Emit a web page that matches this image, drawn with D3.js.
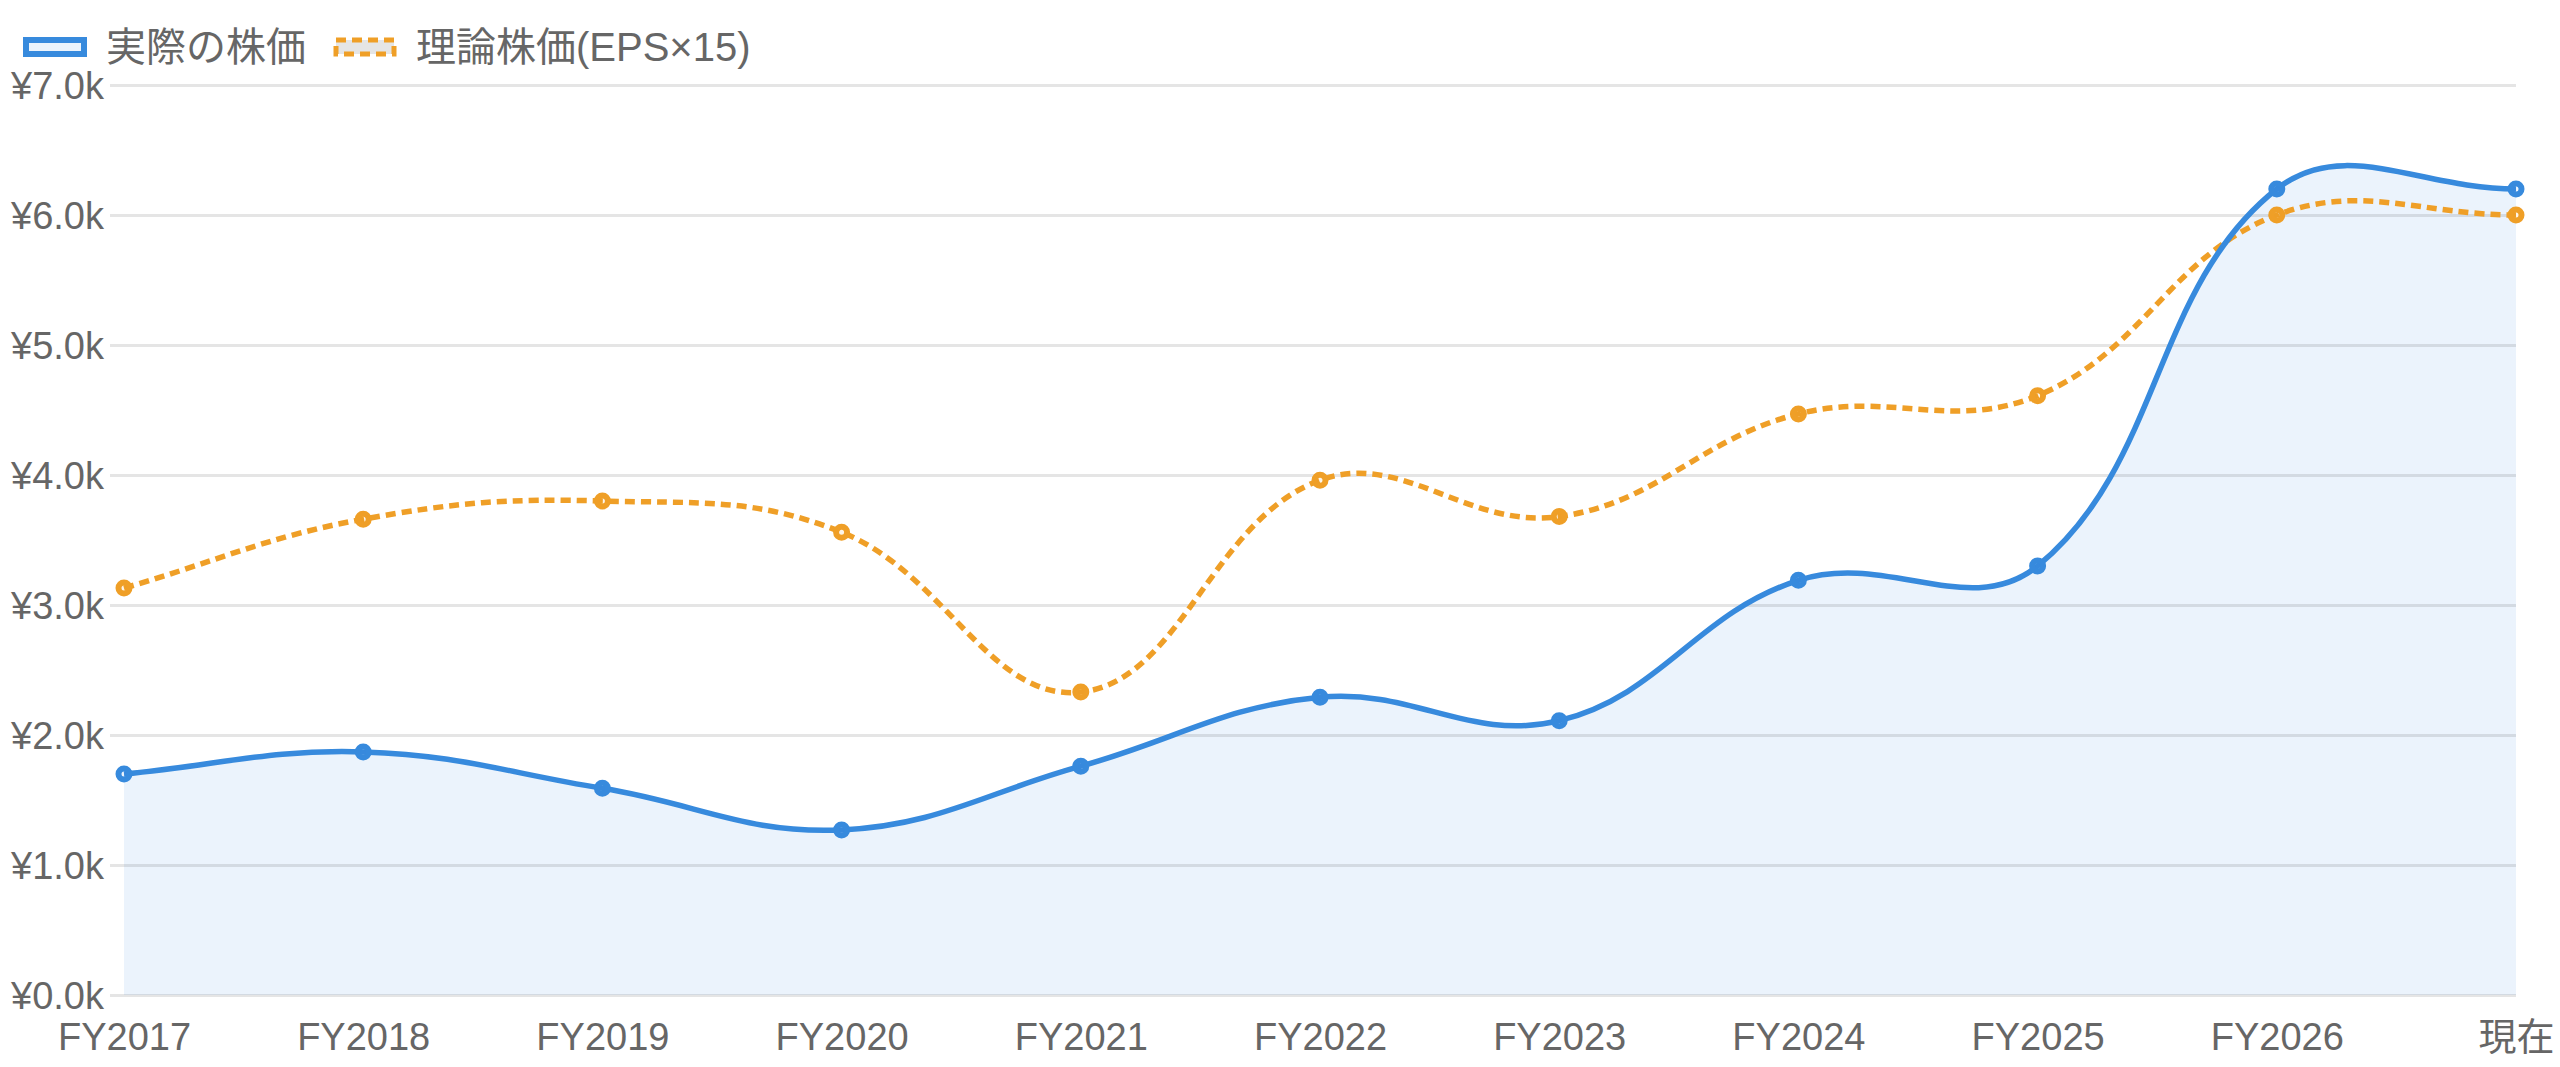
<!DOCTYPE html>
<html>
<head>
<meta charset="utf-8">
<script src="https://cdn.jsdelivr.net/npm/d3@7"></script>
<style>
  html, body { margin: 0; padding: 0; background: #ffffff; }
  svg { display: block; }
  text { font-family: "Liberation Sans", Arial, "Noto Sans CJK JP", sans-serif; fill: #666666; }
</style>
</head>
<body>
<svg id="chart" width="2560" height="1067"></svg>
<script>
// ---- data ----
const categories = ["FY2017","FY2018","FY2019","FY2020","FY2021","FY2022","FY2023","FY2024","FY2025","FY2026","現在"];
const actualPrice = [1700, 1870, 1590, 1270, 1760, 2290, 2110, 3190, 3300, 6200, 6200];
const theoreticalPrice = [3130, 3660, 3800, 3560, 2330, 3960, 3680, 4470, 4610, 6000, 6000];
const seriesNames = ["実際の株価", "理論株価(EPS×15)"];
const yTicks = [0, 1000, 2000, 3000, 4000, 5000, 6000, 7000];

// ---- layout ----
const plotL = 124, plotR = 2516, plotT = 85, plotB = 995;
const blue = "#378ADD", orange = "#EF9F27";

const svg = d3.select("#chart");
const x = d3.scalePoint().domain(categories).range([plotL, plotR]);
const y = d3.scaleLinear().domain([0, 7000]).range([plotB, plotT]);

// Chart.js-style bezier spline (tension 0.4) as a d3 curve
function chartJsCurve(tension, bounds) {
  function Curve(context) { this._context = context; }
  Curve.prototype = {
    areaStart() { this._line = 0; },
    areaEnd() { this._line = NaN; },
    lineStart() { this._pts = []; },
    point(px, py) { this._pts.push([+px, +py]); },
    lineEnd() {
      const p = this._pts, n = p.length, ctx = this._context;
      if (n) {
        if (this._line) ctx.lineTo(p[0][0], p[0][1]); else ctx.moveTo(p[0][0], p[0][1]);
        const clampX = v => Math.max(bounds[0], Math.min(bounds[1], v));
        const clampY = v => Math.max(bounds[2], Math.min(bounds[3], v));
        const cps = p.map((cur, i) => {
          const prev = p[Math.max(0, i - 1)], next = p[Math.min(n - 1, i + 1)];
          const d01 = Math.hypot(cur[0] - prev[0], cur[1] - prev[1]);
          const d12 = Math.hypot(next[0] - cur[0], next[1] - cur[1]);
          let s01 = d01 / (d01 + d12), s12 = d12 / (d01 + d12);
          if (isNaN(s01)) s01 = 0; if (isNaN(s12)) s12 = 0;
          const fa = tension * s01, fb = tension * s12;
          return {
            prev: [clampX(cur[0] - fa * (next[0] - prev[0])), clampY(cur[1] - fa * (next[1] - prev[1]))],
            next: [clampX(cur[0] + fb * (next[0] - prev[0])), clampY(cur[1] + fb * (next[1] - prev[1]))]
          };
        });
        for (let i = 1; i < n; i++) {
          ctx.bezierCurveTo(cps[i-1].next[0], cps[i-1].next[1], cps[i].prev[0], cps[i].prev[1], p[i][0], p[i][1]);
        }
      }
      if (this._line || (this._line !== 0 && n === 1)) ctx.closePath();
      this._line = 1 - this._line;
    }
  };
  return ctx => new Curve(ctx);
}
const curve = chartJsCurve(0.4, [plotL, plotR, plotT, plotB]);

const actualData = categories.map((c, i) => ({c, v: actualPrice[i]}));
const theoData = categories.map((c, i) => ({c, v: theoreticalPrice[i]}));

// area fill (actual)
svg.append("path")
  .datum(actualData)
  .attr("d", d3.area().x(d => x(d.c)).y0(y(0)).y1(d => y(d.v)).curve(curve))
  .attr("fill", "rgba(55,138,221,0.1)");

// gridlines + y labels
const yAxis = d3.axisLeft(y).tickValues(yTicks).tickSize(0).tickPadding(0)
  .tickFormat(v => "¥" + (v / 1000).toFixed(1) + "k");
const gy = svg.append("g").call(yAxis);
gy.select(".domain").remove();
gy.selectAll(".tick line").attr("stroke", "rgba(0,0,0,0.1)").attr("stroke-width", 3)
  .attr("x1", 110).attr("x2", plotR);
gy.selectAll(".tick text")
  .attr("x", 104).attr("dy", "0.35em")
  .attr("text-anchor", "end")
  .style("font-size", "38px").style("fill", "#666");

// x labels
const xAxis = d3.axisBottom(x).tickSize(0).tickPadding(0);
const gx = svg.append("g").attr("transform", `translate(0,${plotB})`).call(xAxis);
gx.select(".domain").remove();
gx.selectAll(".tick text").attr("y", 55).attr("dy", 0)
  .style("font-size", "38px").style("fill", "#666");

// lines
svg.append("path").datum(theoData)
  .attr("d", d3.line().x(d => x(d.c)).y(d => y(d.v)).curve(curve))
  .attr("fill", "none").attr("stroke", orange).attr("stroke-width", 5.5)
  .attr("stroke-dasharray", "10,6");
svg.append("path").datum(actualData)
  .attr("d", d3.line().x(d => x(d.c)).y(d => y(d.v)).curve(curve))
  .attr("fill", "none").attr("stroke", blue).attr("stroke-width", 5.5);

// points
svg.append("g").selectAll("circle").data(theoData).join("circle")
  .attr("cx", d => x(d.c)).attr("cy", d => y(d.v)).attr("r", 5.5)
  .attr("fill", "rgba(239,159,39,0.1)").attr("stroke", orange).attr("stroke-width", 6);
svg.append("g").selectAll("circle").data(actualData).join("circle")
  .attr("cx", d => x(d.c)).attr("cy", d => y(d.v)).attr("r", 5.5)
  .attr("fill", "rgba(55,138,221,0.1)").attr("stroke", blue).attr("stroke-width", 6);

// legend
const lg = svg.append("g");
lg.append("rect").attr("x", 26).attr("y", 40).attr("width", 58).attr("height", 14)
  .attr("fill", "rgba(55,138,221,0.1)").attr("stroke", blue).attr("stroke-width", 6);
const t1 = lg.append("text").attr("x", 106).attr("y", 47).attr("dy", "0.35em")
  .style("font-size", "40px").text(seriesNames[0]);
const t1end = 106 + t1.node().getComputedTextLength();
const bx2 = t1end + 27;
lg.append("rect").attr("x", bx2 + 3).attr("y", 40).attr("width", 58).attr("height", 14)
  .attr("fill", "rgba(0,0,0,0.1)").attr("stroke", orange).attr("stroke-width", 5)
  .attr("stroke-dasharray", "10,6");
lg.append("text").attr("x", bx2 + 83).attr("y", 47).attr("dy", "0.35em")
  .style("font-size", "40px").text(seriesNames[1]);
</script>
</body>
</html>
